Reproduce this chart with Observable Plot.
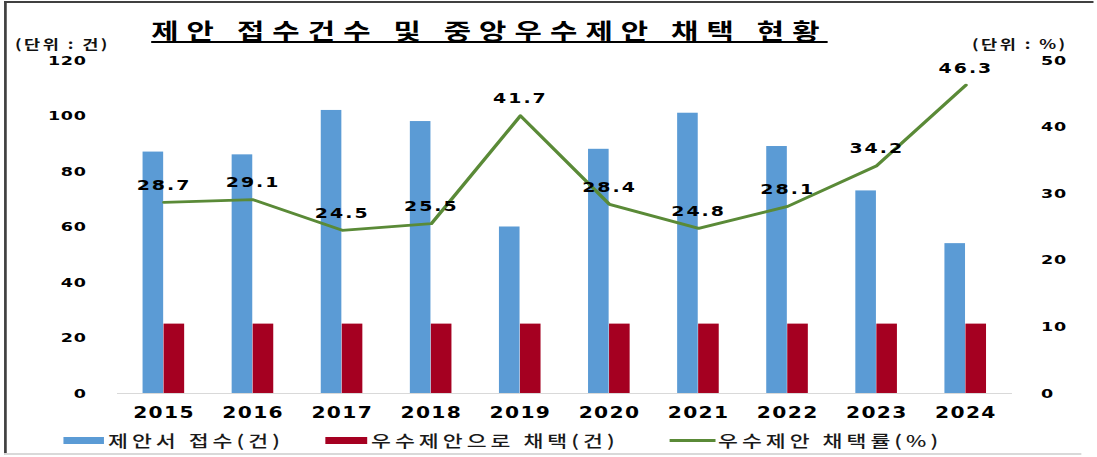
<!DOCTYPE html>
<html><head><meta charset="utf-8">
<script src="https://cdn.jsdelivr.net/npm/d3@7"></script>
<script src="https://cdn.jsdelivr.net/npm/@observablehq/plot@0.6"></script>
<style>
html,body{margin:0;padding:0;background:#fff;}
body{width:1097px;height:457px;overflow:hidden;}
#page{position:absolute;left:0;top:0;height:457px;transform-origin:0 0;font-family:"Noto Sans CJK KR",sans-serif;color:#000;}
.abs{position:absolute;white-space:nowrap;}
#title{left:112px;top:14px;font-size:22px;font-weight:700;letter-spacing:6px;line-height:30px;text-decoration:underline;text-decoration-thickness:1.5px;text-underline-offset:2px;}
.unit{top:36px;font-size:13px;font-weight:700;letter-spacing:1.8px;line-height:16px;color:#111;}
#chart{position:absolute;left:0;top:42px;}
.leg{top:429px;font-size:16px;font-weight:500;letter-spacing:3px;line-height:22px;color:#1a1a1a;}
svg text{font-family:"DejaVu Sans",sans-serif;font-weight:bold;fill:#000;}
g[aria-label="x-axis tick label"] text{font-size:15px;letter-spacing:1px;}
g[aria-label="y-axis tick label"] text{font-size:13px;letter-spacing:0.5px;}
</style>
</head><body>
<div id="page"></div>
<script>
// ---- data ----
const years = ["2015","2016","2017","2018","2019","2020","2021","2022","2023","2024"];
const received = [87, 86, 102, 98, 60, 88, 101, 89, 73, 54];   // 제안서 접수(건)
const adopted  = [25, 25, 25, 25, 25, 25, 25, 25, 25, 25];      // 우수제안으로 채택(건)
const rates    = [28.7, 29.1, 24.5, 25.5, 41.7, 28.4, 24.8, 28.1, 34.2, 46.3]; // 우수제안 채택률(%)
const leftTicks  = [0, 20, 40, 60, 80, 100, 120];
const rightTicks = [0, 10, 20, 30, 40, 50];
const titleText = "제안 접수건수 및 중앙우수제안 채택 현황";
const unitLeft = "(단위 : 건)";
const unitRight = "(단위 : %)";
const seriesNames = ["제안서 접수(건)", "우수제안으로 채택(건)", "우수제안 채택률(%)"];
const colors = ["#5B9BD5", "#A50021", "#5A8A37"];

// ---- layout (picture is horizontally stretched) ----
const S = 1.35;
const W = 1097 / S;
const mL = 117 / S, mR = (1097 - 1012) / S;
const bw = (W - mL - mR) / years.length;
const barW = 21 / S;
const k = 120 / 50; // right axis (%) mapped onto left axis scale

const page = document.getElementById("page");
page.style.width = W + "px";
page.style.transform = `scaleX(${S})`;

function box(css){const d=document.createElement("div");d.className="abs";Object.assign(d.style,css);page.appendChild(d);return d;}
// borders
box({left:(4/S)+"px",top:"1px",width:((1093-4)/S)+"px",height:"2px",background:"#404040"});
box({left:(4/S)+"px",top:"1px",width:(2.5/S)+"px",height:"454px",background:"#404040"});
box({left:(4/S)+"px",top:"453px",width:((1082-4)/S)+"px",height:"1.5px",background:"#d9d9d9"});

const t = box({}); t.id="title"; t.textContent = titleText;
const u1 = box({left:(15/S)+"px"}); u1.className += " unit"; u1.textContent = unitLeft;
const u2 = box({left:(972/S)+"px"}); u2.className += " unit"; u2.textContent = unitRight;

const data = years.map((y,i)=>({year:y, received:received[i], adopted:adopted[i], rate:rates[i]}));

const chart = Plot.plot({
  width: W, height: 380,
  marginLeft: mL, marginRight: mR, marginTop: 18, marginBottom: 29,
  style: {background: "transparent", overflow: "visible"},
  x: {domain: years, padding: 0, axis: null},
  y: {domain: [0, 120], axis: null},
  marks: [
    Plot.barY(data, {x:"year", y:"received", fill:colors[0], insetLeft: bw/2 - barW, insetRight: bw/2}),
    Plot.barY(data, {x:"year", y:"adopted", fill:colors[1], insetLeft: bw/2, insetRight: bw/2 - barW}),
    Plot.ruleY([0], {stroke:"#d9d9d9", strokeWidth:1.2}),
    Plot.line(data, {x:"year", y: d => d.rate * k, stroke:colors[2], strokeWidth:2.8}),
    Plot.text(data, {x:"year", y: d => d.rate * k, text: d => d.rate.toFixed(1), dy:-17, fontSize:14, fontWeight:"bold", fontFamily:"DejaVu Sans", fill:"#000"}),
    Plot.axisX({tickSize:0, tickPadding:14, label:null}),
    Plot.axisY({ticks:leftTicks, anchor:"left", tickSize:0, tickPadding:23, label:null}),
    Plot.axisY({ticks:rightTicks.map(v=>v*k), anchor:"right", tickSize:0, tickPadding:21, label:null, tickFormat: d => String(Math.round(d / k))})
  ]
});
chart.id = "chart";
page.appendChild(chart);
chart.querySelectorAll('g[aria-label="text"] text').forEach(e=>e.style.letterSpacing="1.5px");

// legend
const legX = [[64,104,108],[326,367,371],[669,716,718]];
seriesNames.forEach((name,i)=>{
  const [a,b,c] = legX[i];
  const h = i<2 ? 7 : 3;
  box({left:(a/S)+"px", top:(440 - h/2)+"px", width:((b-a)/S)+"px", height:h+"px", background:colors[i]});
  const l = box({left:(c/S)+"px"}); l.className += " leg"; l.textContent = name;
});
</script>
</body></html>
